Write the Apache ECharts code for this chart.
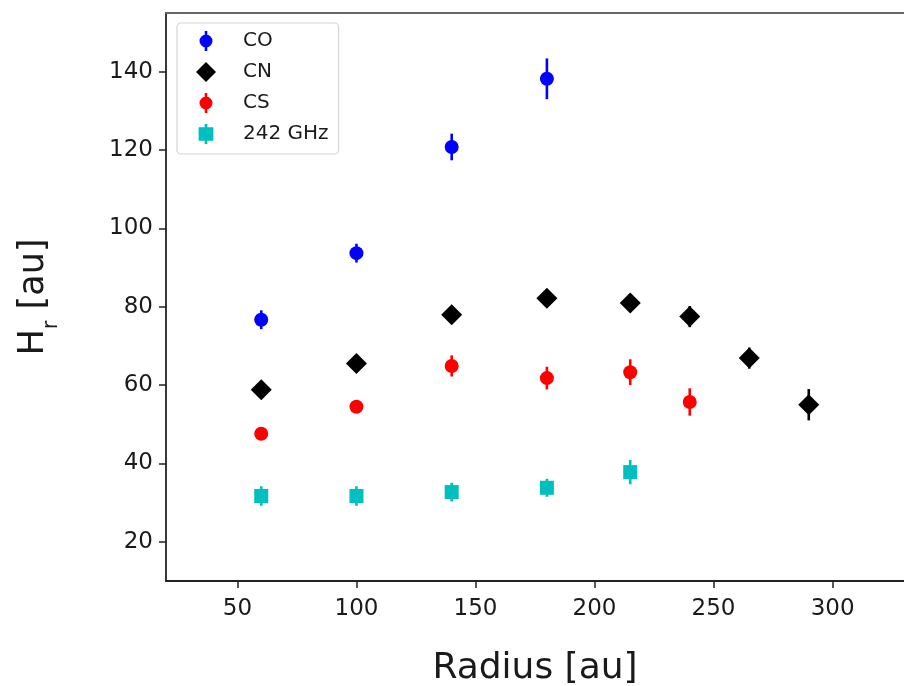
<!DOCTYPE html>
<html>
<head>
<meta charset="utf-8">
<script src="https://cdn.jsdelivr.net/npm/echarts@6/dist/echarts.min.js"></script>
<style>
  html, body { margin: 0; padding: 0; background: #fff; }
  #chart { width: 904px; height: 686px; }
</style>
</head>
<body>
<div id="chart"></div>
<script>
// Scale height H_r versus radius for each tracer, with 1-sigma uncertainties
const radiusCO = [60, 100, 140, 180];
const heightCO = [76.7, 93.7, 120.8, 138.2];
const errorCO  = [2.4, 2.4, 3.4, 5.2];

const radiusCN = [60, 100, 140, 180, 215, 240, 265, 290];
const heightCN = [58.8, 65.5, 78.0, 82.2, 81.0, 77.5, 66.9, 55.0];
const errorCN  = [1.2, 1.2, 1.5, 1.5, 1.8, 2.7, 2.7, 4.0];

const radiusCS = [60, 100, 140, 180, 215, 240];
const heightCS = [47.6, 54.5, 64.9, 61.8, 63.3, 55.7];
const errorCS  = [1.2, 1.2, 2.7, 2.9, 3.3, 3.5];

const radiusCont = [60, 100, 140, 180, 215];
const heightCont = [31.7, 31.7, 32.7, 33.8, 37.8];
const errorCont  = [2.5, 2.5, 2.4, 2.3, 3.1];

const seriesNames = ['CO', 'CN', 'CS', '242 GHz'];
const xTicks = [50, 100, 150, 200, 250, 300];
const yTicks = [20, 40, 60, 80, 100, 120, 140];

const FONT = 'DejaVu Sans';
const INK = '#1a1a1a';

function rows(r, h, e) {
  return r.map((x, i) => [x, h[i], e[i]]);
}

// vertical error bar drawn through the axis scales
function errorBars(name, data, color) {
  return {
    type: 'custom',
    name: name + ' err',
    data: data,
    z: 2,
    silent: true,
    renderItem: function (params, api) {
      const x = api.value(0), y = api.value(1), e = api.value(2);
      const top = api.coord([x, y + e]);
      const bot = api.coord([x, y - e]);
      return {
        type: 'line',
        shape: { x1: top[0], y1: top[1], x2: bot[0], y2: bot[1] },
        style: { stroke: color, lineWidth: 2.6 }
      };
    }
  };
}

function markers(name, data, color, symbol, size) {
  return {
    type: 'scatter',
    name: name,
    data: data.map(d => [d[0], d[1]]),
    symbol: symbol,
    symbolSize: size,
    itemStyle: { color: color, opacity: 1 },
    z: 3
  };
}

const colors = { co: '#0000ff', cn: '#000000', cs: '#ff0000', cont: '#00bfbf' };

const dCO = rows(radiusCO, heightCO, errorCO);
const dCN = rows(radiusCN, heightCN, errorCN);
const dCS = rows(radiusCS, heightCS, errorCS);
const dCont = rows(radiusCont, heightCont, errorCont);

const circleBar = 'path://M-1.3,-10H1.3V10H-1.3Z M-6.5,0A6.5,6.5,0,1,1,6.5,0A6.5,6.5,0,1,1,-6.5,0Z';
const diamond = 'path://M0,-10L10,0L0,10L-10,0Z';
const squareBar = 'path://M-1.3,-9.5H1.3V9.5H-1.3Z M-7,-6.5H7V6.5H-7Z';

const chart = echarts.init(document.getElementById('chart'), null, { renderer: 'canvas' });

chart.setOption({
  animation: false,
  backgroundColor: '#ffffff',
  textStyle: { fontFamily: FONT },
  grid: { left: 166, top: 13, right: 0, bottom: 105, containLabel: false, outerBoundsMode: 'none' },
  legend: {
    left: 177,
    top: 23,
    orient: 'vertical',
    padding: [8, 10, 10, 19],
    itemWidth: 20,
    itemHeight: 20,
    itemGap: 11,
    borderColor: '#d6d6d6',
    borderWidth: 1.2,
    borderRadius: 4,
    backgroundColor: 'rgba(255,255,255,0.85)',
    selectedMode: false,
    textStyle: { fontFamily: FONT, fontSize: 20, color: INK, padding: [0, 0, 0, 22], lineHeight: 20 },
    data: [
      { name: seriesNames[0], icon: circleBar },
      { name: seriesNames[1], icon: diamond },
      { name: seriesNames[2], icon: circleBar },
      { name: seriesNames[3], icon: squareBar }
    ]
  },
  xAxis: [{
    type: 'value',
    min: 20,
    max: 330,
    name: 'Radius [au]',
    nameLocation: 'middle',
    nameGap: 70,
    nameTextStyle: { fontFamily: FONT, fontSize: 36, color: INK },
    axisLine: { show: true, onZero: false, lineStyle: { color: '#222', width: 1.8 } },
    axisTick: { show: true, inside: false, length: 7, customValues: xTicks, lineStyle: { color: '#222', width: 1.5 } },
    axisLabel: { customValues: xTicks, margin: 17, fontFamily: FONT, fontSize: 23, color: INK },
    splitLine: { show: false }
  }, {
    type: 'value',
    position: 'top',
    min: 20,
    max: 330,
    axisLine: { show: true, onZero: false, lineStyle: { color: '#666', width: 2 } },
    axisTick: { show: false },
    axisLabel: { show: false },
    splitLine: { show: false }
  }],
  yAxis: {
    type: 'value',
    min: 10,
    max: 155,
    name: '{n|H}{s|r}{n| [au]}',
    nameLocation: 'middle',
    nameRotate: 90,
    nameGap: 112,
    nameTextStyle: {
      fontFamily: FONT, color: INK,
      rich: {
        n: { fontFamily: FONT, fontSize: 35, color: INK, lineHeight: 40 },
        s: { fontFamily: FONT, fontSize: 21, color: INK, verticalAlign: 'bottom', lineHeight: 40, padding: [0, 0, -8, 0] }
      }
    },
    axisLine: { show: true, onZero: false, lineStyle: { color: '#222', width: 1.8 } },
    axisTick: { show: true, inside: false, length: 7, customValues: yTicks, lineStyle: { color: '#222', width: 1.5 } },
    axisLabel: { customValues: yTicks, margin: 13, fontFamily: FONT, fontSize: 23, color: INK },
    splitLine: { show: false }
  },
  series: [
    errorBars(seriesNames[0], dCO, colors.co),
    markers(seriesNames[0], dCO, colors.co, 'circle', 14),
    errorBars(seriesNames[1], dCN, colors.cn),
    markers(seriesNames[1], dCN, colors.cn, 'diamond', 21),
    errorBars(seriesNames[2], dCS, colors.cs),
    markers(seriesNames[2], dCS, colors.cs, 'circle', 14),
    errorBars(seriesNames[3], dCont, colors.cont),
    markers(seriesNames[3], dCont, colors.cont, 'rect', 14)
  ]
});
</script>
</body>
</html>
